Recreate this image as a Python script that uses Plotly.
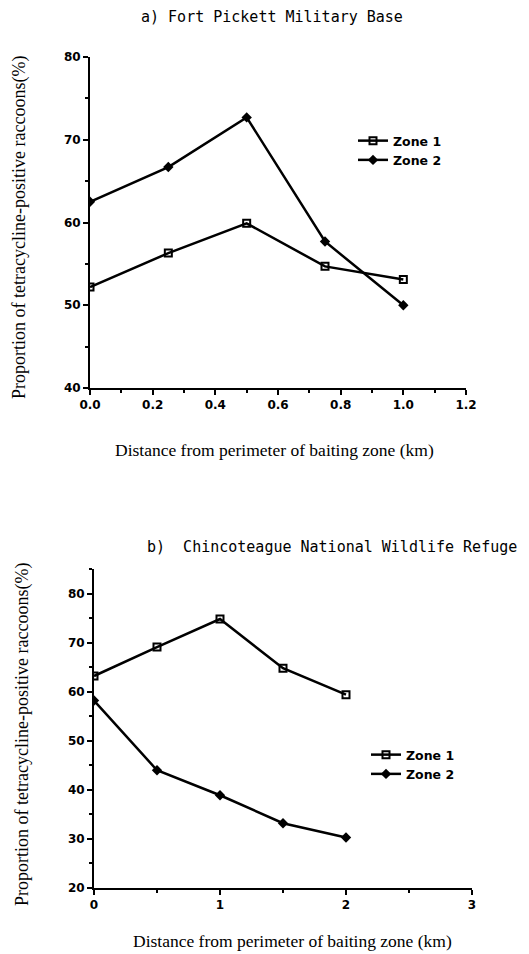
import plotly.graph_objects as go

# ---- data ----
dist_a = [0.0, 0.25, 0.5, 0.75, 1.0]
zone1_a = [52.2, 56.3, 59.9, 54.7, 53.1]
zone2_a = [62.5, 66.7, 72.7, 57.7, 50.0]

dist_b = [0.0, 0.5, 1.0, 1.5, 2.0]
zone1_b = [63.2, 69.1, 74.8, 64.8, 59.4]
zone2_b = [58.2, 44.0, 38.9, 33.2, 30.3]

series_names = ["Zone 1", "Zone 2"]
title_a = "a) Fort Pickett Military Base"
title_b = "b)  Chincoteague National Wildlife Refuge"
ytitle = "Proportion of tetracycline-positive raccoons(%)"
xtitle = "Distance from perimeter of baiting zone (km)"

# the page body has an 8px margin, so the figure starts at (8, 8) in the window
OFF = 8
W, H = 529 - OFF, 954 - OFF
def px(x): return (x - OFF) / W
def py(y): return 1 - (y - OFF) / H

fig = go.Figure()
sq = dict(symbol="square-open", size=7, color="black", line=dict(width=2, color="black"))
dm = dict(symbol="diamond", size=8, color="black", line=dict(width=0))
ln = dict(color="black", width=2.5)

fig.add_trace(go.Scatter(x=dist_a, y=zone1_a, mode="lines+markers", name=series_names[0],
                         line=ln, marker=sq, xaxis="x", yaxis="y", legend="legend"))
fig.add_trace(go.Scatter(x=dist_a, y=zone2_a, mode="lines+markers", name=series_names[1],
                         line=ln, marker=dm, xaxis="x", yaxis="y", legend="legend"))
fig.add_trace(go.Scatter(x=dist_b, y=zone1_b, mode="lines+markers", name=series_names[0],
                         line=ln, marker=sq, xaxis="x2", yaxis="y2", legend="legend2"))
fig.add_trace(go.Scatter(x=dist_b, y=zone2_b, mode="lines+markers", name=series_names[1],
                         line=ln, marker=dm, xaxis="x2", yaxis="y2", legend="legend2"))

tickfont = dict(family="DejaVu Sans", size=12, color="black", weight="bold")
axcommon = dict(showline=True, linecolor="black", linewidth=2, ticks="outside",
                tickcolor="black", tickwidth=2, ticklen=5, showgrid=False,
                zeroline=False, tickfont=tickfont, automargin=False)
minor_style = dict(ticks="outside", ticklen=3, tickwidth=1.5, tickcolor="black")

legfont = dict(family="DejaVu Sans", size=12.5, color="black", weight="bold")

fig.update_layout(
    width=W, height=H, autosize=False,
    margin=dict(l=0, r=0, t=0, b=0, autoexpand=False),
    paper_bgcolor="white", plot_bgcolor="white",
    xaxis=dict(domain=[px(90), px(466)], anchor="y", range=[0, 1.2], dtick=0.2,
               tickformat=".1f", minor=dict(dtick=0.1, **minor_style), **axcommon),
    yaxis=dict(domain=[py(388), py(57)], anchor="x", range=[40, 80], dtick=10,
               minor=dict(dtick=5, **minor_style), **axcommon),
    xaxis2=dict(domain=[px(94), px(472)], anchor="y2", range=[0, 3], dtick=1,
                minor=dict(dtick=0.5, **minor_style), **axcommon),
    yaxis2=dict(domain=[py(888), py(569)], anchor="x2", range=[20, 85], dtick=10,
                tick0=20, minor=dict(dtick=5, **minor_style), **axcommon),
    legend=dict(x=px(353), y=py(126), xanchor="left", yanchor="top",
                font=legfont, bgcolor="rgba(0,0,0,0)", tracegroupgap=0, itemwidth=30),
    legend2=dict(x=px(366), y=py(740), xanchor="left", yanchor="top",
                 font=legfont, bgcolor="rgba(0,0,0,0)", tracegroupgap=0, itemwidth=30),
)

serif_x = dict(family="Liberation Serif", size=17.5, color="black")
serif_y = dict(family="Liberation Serif", size=18, color="black")
mono = dict(family="DejaVu Sans Mono", size=15, color="black")
ann = [
    dict(text=title_a, x=px(272), y=py(17), font=mono),
    dict(text=title_b, x=px(332), y=py(547), font=mono),
    dict(text=xtitle, x=px(274), y=py(450), font=serif_x),
    dict(text=xtitle, x=px(292), y=py(941), font=serif_x),
    dict(text=ytitle, x=px(20), y=py(228), font=serif_y, textangle=-90),
    dict(text=ytitle, x=px(22), y=py(735), font=serif_y, textangle=-90),
]
for a in ann:
    fig.add_annotation(xref="paper", yref="paper", showarrow=False,
                       xanchor="center", yanchor="middle", **a)

fig.write_html("out.html")
